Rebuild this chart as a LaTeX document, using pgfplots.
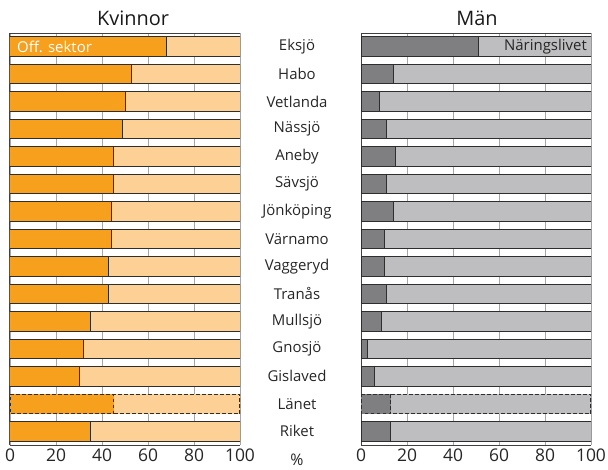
\documentclass[border=0pt]{standalone}
\usepackage{fontspec}
\setmainfont{Open Sans}
\usepackage{pgfplots}
\pgfplotsset{compat=1.18}
\usepackage{pgfplotstable}
\definecolor{orD}{HTML}{F7A01E}
\definecolor{orL}{HTML}{FDD096}
\definecolor{grD}{HTML}{7F7F82}
\definecolor{grL}{HTML}{BEBEC0}
\definecolor{edge}{HTML}{2E2E2E}

\pgfplotstableread{
y kv man tot
0 68 51 100
1 53 14 100
2 50 8 100
3 49 11 100
4 45 15 100
5 45 11 100
6 44 14 100
7 44 10 100
8 43 10 100
9 43 11 100
10 35 9 100
11 32 3 100
12 30 6 100
14 35 13 100
}\dataA
\pgfplotstableread{
y kv man tot
13 45 13 100
}\dataL

\pgfplotsset{myax/.style={
  scale only axis, width=230bp, height=412bp,
  xbar, bar width=0.71, bar shift=0pt,
  xmin=0, xmax=100, ymin=-0.5, ymax=14.5, y dir=reverse,
  enlargelimits=false,
  xtick={0,20,...,100}, xmajorgrids,
  grid style={draw=black!35, line width=0.8bp},
  ytick={0,...,14}, major tick length=0pt,
  axis x line*=box, axis y line*=left,
  axis line style={draw=black!75, line width=1bp},
  xticklabel style={font=\fontsize{17.5}{17.5}\selectfont, text=black!85},
  /pgf/number format/assume math mode=true,
  every axis plot/.append style={draw=edge, line width=1bp},
  dsh/.style={dash pattern=on 3.5bp off 2.5bp, line width=1.1bp},
}}

\begin{document}
\begin{tikzpicture}
\useasboundingbox (0,0) rectangle (608bp,470bp);
\begin{axis}[myax, at={(10bp,25bp)}, anchor=south west, yticklabels={}]
  \addplot[fill=orL] table[x=tot, y=y] {\dataA};
  \addplot[fill=orD] table[x=kv, y=y] {\dataA};
  \addplot[fill=orL, dsh] table[x=tot, y=y] {\dataL};
  \addplot[fill=orD, dsh] table[x=kv, y=y] {\dataL};
  \node[anchor=west, text=white, font=\fontsize{15}{15}\selectfont, inner sep=0pt] at (axis cs:0,0) [xshift=7bp] {Off. sektor};
\end{axis}
\begin{axis}[myax, at={(361bp,25bp)}, anchor=south west,
  yticklabels={Eksjö,Habo,Vetlanda,Nässjö,Aneby,Sävsjö,Jönköping,Värnamo,Vaggeryd,Tranås,Mullsjö,Gnosjö,Gislaved,Länet,Riket},
  yticklabel style={anchor=center, xshift=-64bp, font=\fontsize{15}{15}\selectfont, text=black!85}]
  \addplot[fill=grL] table[x=tot, y=y] {\dataA};
  \addplot[fill=grD] table[x=man, y=y] {\dataA};
  \addplot[fill=grL, dsh] table[x=tot, y=y] {\dataL};
  \addplot[fill=grD, dsh] table[x=man, y=y] {\dataL};
  \node[anchor=east, text=black!85, font=\fontsize{15}{15}\selectfont, inner sep=0pt] at (axis cs:100,0) [xshift=-4bp] {Näringslivet};
\end{axis}
\node[anchor=base, font=\fontsize{20}{20}\selectfont, text=black!90] at (133bp,444bp) {Kvinnor};
\node[anchor=base, font=\fontsize{20}{20}\selectfont, text=black!90] at (477bp,444bp) {Män};
\node[anchor=base, font=\fontsize{16}{16}\selectfont, text=black!85] at (297bp,5bp) {\%};
\end{tikzpicture}
\end{document}
